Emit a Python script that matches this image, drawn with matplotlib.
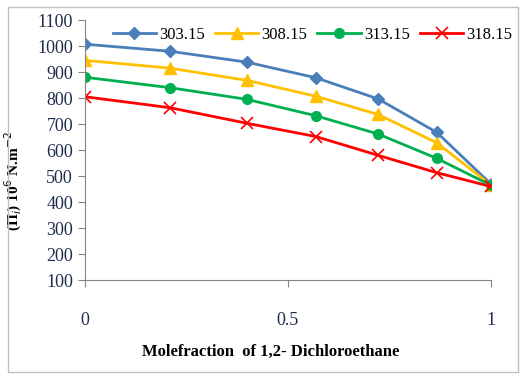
import matplotlib
matplotlib.use('Agg')
import matplotlib.pyplot as plt
from matplotlib.patches import Rectangle

plt.rcParams['font.family'] = ['Liberation Serif', 'DejaVu Serif']

# mole fraction of 1,2-dichloroethane
x = [0, 0.209, 0.399, 0.569, 0.722, 0.867, 1.0]
# internal pressure at each temperature (K)
t303 = [1007, 980, 938, 878, 797, 668, 470]
t308 = [945, 915, 868, 807, 737, 628, 466]
t313 = [880, 840, 795, 732, 662, 568, 465]
t318 = [805, 763, 703, 652, 580, 513, 460]
labels = ['303.15', '308.15', '313.15', '318.15']

fig = plt.figure(figsize=(5.21, 3.74), dpi=100)
ax = fig.add_axes([0.163, 0.251, 0.779, 0.6955])

ax.plot(x, t303, color='#4a7ebb', marker='D', markersize=6, lw=2, label=labels[0])
ax.plot(x, t308, color='#ffc000', marker='^', markersize=8, lw=2, label=labels[1])
ax.plot(x, t313, color='#00b050', marker='o', markersize=7, lw=2, label=labels[2])
ax.plot(x, t318, color='#ff0000', marker='x', markersize=8, mew=1.2, lw=2, label=labels[3])

ax.set_xlim(0, 1)
ax.set_ylim(100, 1100)
ax.set_yticks(range(100, 1101, 100))
ax.set_xticks([0, 0.5, 1])
ax.set_xticklabels(['0', '0.5', '1'])
ax.spines['top'].set_visible(False)
ax.spines['right'].set_visible(False)
for s in ['left', 'bottom']:
    ax.spines[s].set_color('#868686')
ax.tick_params(direction='out', length=5, color='#868686', labelsize=13, labelcolor='#1f2d4d')
ax.tick_params(axis='x', pad=18)

ax.set_ylabel('(\u03a0$_i$) 10$^6$ N.m$^{-2}$', fontsize=11, fontweight='bold')
ax.yaxis.set_label_coords(-0.15, 0.38)
fig.text(0.52, 0.058, 'Molefraction  of 1,2- Dichloroethane', ha='center', va='center',
         fontsize=12, fontweight='bold')

ax.legend(loc='center', bbox_to_anchor=(0.6, 0.906), bbox_transform=fig.transFigure,
          ncol=4, frameon=False, fontsize=12, handlelength=2.6, columnspacing=0.6,
          handletextpad=0.2, borderpad=0.1)

fig.patches.append(Rectangle((0.015, 0.005), 0.98, 0.975, transform=fig.transFigure,
                             fill=False, edgecolor='#bfbfbf', lw=1))

fig.savefig('out.png', dpi=100)
